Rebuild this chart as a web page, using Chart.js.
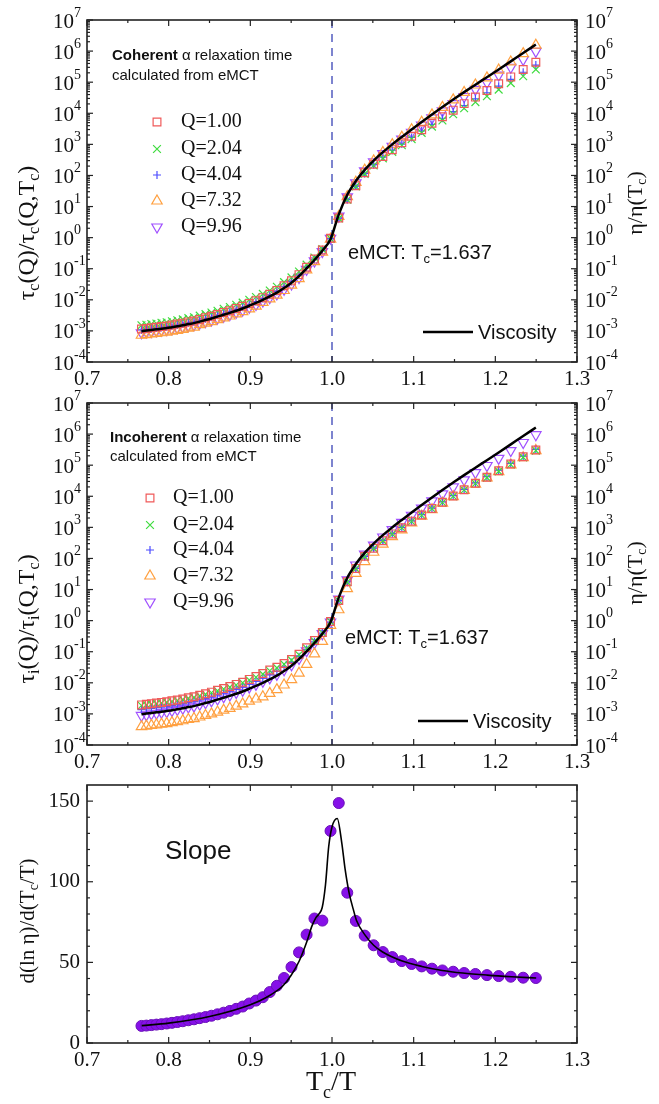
<!DOCTYPE html>
<html>
<head>
<meta charset="utf-8">
<script src="https://cdn.jsdelivr.net/npm/chart.js@4.4.0/dist/chart.umd.min.js"></script>
<style>
  body { margin: 0; background: #fff; width: 659px; height: 1104px; position: relative; overflow: hidden; }
  canvas { position: absolute; left: 0; }
</style>
</head>
<body>
<canvas id="cohChart" width="659" height="395" style="top:0px"></canvas>
<canvas id="incChart" width="659" height="395" style="top:383px"></canvas>
<canvas id="slopeChart" width="659" height="336" style="top:768px"></canvas>
<script>
// Tc/T of the computed points (same grid in all panels)
const tcOverT = [0.7667, 0.7727, 0.7788, 0.7850, 0.7912, 0.7976, 0.8040, 0.8106, 0.8173, 0.8241,
  0.8310, 0.8380, 0.8451, 0.8524, 0.8598, 0.8673, 0.8749, 0.8827, 0.8906, 0.8987,
  0.9069, 0.9153, 0.9238, 0.9325, 0.9413, 0.9504, 0.9596, 0.9689, 0.9785, 0.9882,
  0.9982, 1.0083, 1.0187, 1.0292, 1.0400, 1.0510, 1.0623, 1.0738, 1.0855, 1.0975,
  1.1098, 1.1224, 1.1352, 1.1484, 1.1618, 1.1756, 1.1897, 1.2041, 1.2189, 1.2341, 1.2496];

// log10 of eta/eta(Tc) (black line)
const viscosityLog = [-3.01, -2.99, -2.97, -2.95, -2.93, -2.91, -2.88, -2.85, -2.82, -2.78,
  -2.75, -2.70, -2.65, -2.60, -2.54, -2.48, -2.42, -2.35, -2.28, -2.19,
  -2.10, -2.00, -1.89, -1.77, -1.62, -1.45, -1.24, -0.99, -0.72, -0.42,
  -0.05, 0.75, 1.38, 1.82, 2.18, 2.48, 2.75, 3.00, 3.24, 3.48,
  3.72, 3.96, 4.20, 4.44, 4.68, 4.92, 5.16, 5.41, 5.67, 5.94, 6.21];

// log10 of tau_c(Q)/tau_c(Q,Tc), coherent
const cohQ100 = [-2.94, -2.92, -2.90, -2.88, -2.86, -2.84, -2.81, -2.78, -2.75, -2.71,
  -2.68, -2.63, -2.58, -2.53, -2.47, -2.41, -2.35, -2.28, -2.21, -2.12,
  -2.03, -1.93, -1.82, -1.70, -1.55, -1.39, -1.19, -0.95, -0.69, -0.40,
  -0.02, 0.63, 1.24, 1.67, 2.09, 2.36, 2.61, 2.83, 3.05, 3.26,
  3.47, 3.68, 3.89, 4.10, 4.31, 4.52, 4.73, 4.95, 5.17, 5.41, 5.64];
const cohQ204 = [-2.82, -2.80, -2.78, -2.76, -2.74, -2.72, -2.69, -2.66, -2.63, -2.59,
  -2.56, -2.51, -2.46, -2.41, -2.35, -2.29, -2.23, -2.16, -2.09, -2.00,
  -1.91, -1.81, -1.70, -1.58, -1.43, -1.28, -1.09, -0.87, -0.64, -0.37,
  -0.03, 0.62, 1.22, 1.65, 2.05, 2.32, 2.55, 2.76, 2.97, 3.17,
  3.37, 3.57, 3.77, 3.97, 4.16, 4.36, 4.55, 4.76, 4.97, 5.19, 5.41];
const cohQ404 = [-2.97, -2.95, -2.93, -2.91, -2.89, -2.87, -2.84, -2.81, -2.78, -2.74,
  -2.71, -2.66, -2.61, -2.56, -2.50, -2.44, -2.38, -2.31, -2.24, -2.15,
  -2.06, -1.96, -1.85, -1.73, -1.58, -1.41, -1.21, -0.96, -0.70, -0.41,
  -0.03, 0.63, 1.23, 1.66, 2.07, 2.35, 2.59, 2.81, 3.01, 3.22,
  3.43, 3.64, 3.84, 4.05, 4.25, 4.46, 4.66, 4.87, 5.09, 5.32, 5.55];
const cohQ732 = [-3.14, -3.12, -3.10, -3.08, -3.06, -3.04, -3.01, -2.98, -2.95, -2.91,
  -2.88, -2.80, -2.75, -2.70, -2.64, -2.58, -2.52, -2.45, -2.38, -2.29,
  -2.20, -2.08, -1.97, -1.85, -1.70, -1.53, -1.32, -1.04, -0.77, -0.47,
  -0.05, 0.68, 1.32, 1.78, 2.17, 2.47, 2.74, 2.99, 3.23, 3.47,
  3.71, 3.95, 4.19, 4.43, 4.67, 4.91, 5.14, 5.39, 5.65, 5.92, 6.19];
const cohQ996 = [-3.06, -3.04, -3.02, -3.00, -2.98, -2.96, -2.93, -2.90, -2.87, -2.83,
  -2.80, -2.75, -2.70, -2.65, -2.59, -2.53, -2.47, -2.40, -2.33, -2.24,
  -2.15, -2.04, -1.93, -1.81, -1.66, -1.49, -1.28, -1.02, -0.75, -0.45,
  -0.02, 0.69, 1.31, 1.76, 2.15, 2.44, 2.70, 2.94, 3.17, 3.39,
  3.62, 3.85, 4.08, 4.31, 4.54, 4.77, 4.99, 5.23, 5.48, 5.73, 5.99];

// log10 of tau_i(Q)/tau_i(Q,Tc), incoherent
const incQ100 = [-2.71, -2.69, -2.67, -2.65, -2.63, -2.61, -2.58, -2.55, -2.52, -2.48,
  -2.45, -2.40, -2.35, -2.30, -2.24, -2.18, -2.12, -2.05, -1.98, -1.89,
  -1.80, -1.70, -1.59, -1.50, -1.38, -1.25, -1.08, -0.87, -0.64, -0.38,
  -0.03, 0.65, 1.25, 1.68, 2.07, 2.33, 2.57, 2.79, 2.99, 3.20,
  3.40, 3.61, 3.81, 4.01, 4.21, 4.42, 4.61, 4.82, 5.04, 5.27, 5.49];
const incQ204 = [-2.73, -2.71, -2.69, -2.67, -2.65, -2.63, -2.60, -2.57, -2.54, -2.50,
  -2.47, -2.42, -2.37, -2.32, -2.26, -2.20, -2.14, -2.07, -2.00, -1.91,
  -1.82, -1.72, -1.61, -1.52, -1.40, -1.27, -1.10, -0.89, -0.66, -0.39,
  -0.03, 0.64, 1.24, 1.67, 2.06, 2.32, 2.56, 2.78, 2.98, 3.19,
  3.39, 3.60, 3.80, 4.00, 4.20, 4.41, 4.60, 4.80, 5.02, 5.25, 5.47];
const incQ404 = [-2.86, -2.84, -2.82, -2.80, -2.78, -2.76, -2.73, -2.70, -2.67, -2.63,
  -2.60, -2.55, -2.50, -2.45, -2.39, -2.33, -2.27, -2.20, -2.13, -2.04,
  -1.95, -1.85, -1.74, -1.63, -1.50, -1.35, -1.16, -0.93, -0.68, -0.40,
  -0.05, 0.65, 1.25, 1.68, 2.07, 2.33, 2.58, 2.80, 3.00, 3.21,
  3.41, 3.62, 3.82, 4.02, 4.22, 4.43, 4.63, 4.84, 5.06, 5.29, 5.51];
const incQ732 = [-3.41, -3.39, -3.37, -3.35, -3.33, -3.31, -3.28, -3.25, -3.22, -3.18,
  -3.15, -3.10, -3.05, -3.00, -2.94, -2.88, -2.82, -2.75, -2.68, -2.59,
  -2.52, -2.45, -2.34, -2.22, -2.07, -1.90, -1.69, -1.41, -1.07, -0.67,
  -0.15, 0.35, 1.03, 1.52, 1.90, 2.20, 2.46, 2.70, 2.92, 3.14,
  3.36, 3.57, 3.78, 3.99, 4.19, 4.39, 4.59, 4.79, 5.01, 5.24, 5.47];
const incQ996 = [-3.05, -3.03, -3.00, -2.98, -2.95, -2.93, -2.89, -2.86, -2.82, -2.78,
  -2.75, -2.69, -2.64, -2.58, -2.52, -2.45, -2.39, -2.31, -2.24, -2.14,
  -2.05, -1.95, -1.84, -1.73, -1.58, -1.42, -1.22, -0.97, -0.71, -0.42,
  -0.05, 0.69, 1.31, 1.79, 2.14, 2.43, 2.69, 2.93, 3.16, 3.39,
  3.62, 3.85, 4.08, 4.30, 4.53, 4.76, 4.99, 5.22, 5.47, 5.73, 5.98];

// d(ln eta)/d(Tc/T): points and the smooth curve
const slopePoints = [10.6, 10.8, 11.1, 11.4, 11.7, 12.1, 12.5, 13.0, 13.5, 14.1,
  14.7, 15.4, 16.1, 16.9, 17.8, 18.8, 19.9, 21.2, 22.6, 24.5,
  26.3, 28.4, 31.6, 35.5, 40.3, 47.1, 56.2, 67.2, 77.2, 75.9,
  131.5, 148.8, 93.2, 75.7, 66.6, 60.6, 56.4, 53.3, 50.8, 49.0,
  47.5, 46.1, 45.0, 44.2, 43.4, 42.8, 42.1, 41.5, 41.1, 40.5, 40.3];
const slopeCurveX = [0.767, 0.80, 0.85, 0.90, 0.92, 0.94, 0.95, 0.96, 0.97, 0.975, 0.98, 0.984,
  0.988, 0.992, 0.996, 1.0, 1.0064, 1.012, 1.016, 1.021, 1.026, 1.030, 1.041, 1.051,
  1.062, 1.086, 1.11, 1.135, 1.16, 1.19, 1.22, 1.25];
const slopeCurveY = [10.8, 12.3, 16.4, 23.7, 28.4, 35.5, 42, 51, 64, 72, 77.5, 80,
  84, 98, 122, 134, 139.2, 124, 108, 93, 83, 76, 66.6, 60.6,
  56.4, 50.8, 47.5, 45, 43.4, 42.1, 41.1, 40.3];

const qLabels = ['Q=1.00', 'Q=2.04', 'Q=4.04', 'Q=7.32', 'Q=9.96'];
const xTicks = [0.7, 0.8, 0.9, 1.0, 1.1, 1.2, 1.3];
const xTickLabels = ['0.7', '0.8', '0.9', '1.0', '1.1', '1.2', '1.3'];
const xMinorTicks = [0.75, 0.85, 0.95, 1.05, 1.15, 1.25];
const logExponents = [-4, -3, -2, -1, 0, 1, 2, 3, 4, 5, 6, 7];
const slopeTicks = [0, 50, 100, 150];
const slopeMinor = [10, 20, 30, 40, 60, 70, 80, 90, 110, 120, 130, 140];

const qStyles = [
  { color: '#f05a5a', style: 'rect', radius: 5.5, rot: 0 },
  { color: '#3fdc3f', style: 'crossRot', radius: 5.5, rot: 0 },
  { color: '#4d4dff', style: 'cross', radius: 4, rot: 0 },
  { color: '#ffa040', style: 'triangle', radius: 6, rot: 0 },
  { color: '#a050ff', style: 'triangle', radius: 6, rot: 180 }
];

const SERIF = '"Liberation Serif", "Times New Roman", serif';
const SANS = '"Liberation Sans", Arial, sans-serif';

function font(size, family, weight) {
  return (weight ? weight + ' ' : '') + size + 'px ' + family;
}

// draws text made of parts: n = normal, b = bold, s = subscript, u = superscript
function drawRich(ctx, parts, x, y, size, family, align) {
  let w = 0;
  const items = parts.map(([t, k]) => {
    const s = (k === 's' || k === 'u') ? Math.round(size * 0.65) : size;
    const f = font(s, family, k === 'b' ? 'bold' : '');
    ctx.font = f;
    const tw = ctx.measureText(t).width;
    w += tw;
    return { t, k, f, tw };
  });
  let cx = align === 'center' ? x - w / 2 : (align === 'right' ? x - w : x);
  ctx.textAlign = 'left';
  items.forEach(it => {
    ctx.font = it.f;
    let dy = 0;
    if (it.k === 's') dy = size * 0.3;
    if (it.k === 'u') dy = -size * 0.43;
    ctx.fillText(it.t, cx, y + dy);
    cx += it.tw;
  });
}

function drawRotated(ctx, parts, cx, cy, size, family) {
  ctx.save();
  ctx.translate(cx, cy);
  ctx.rotate(-Math.PI / 2);
  ctx.textBaseline = 'middle';
  drawRich(ctx, parts, 0, 0, size, family, 'center');
  ctx.restore();
}

function logMinor() {
  const out = [];
  logExponents.slice(0, -1).forEach(e => {
    for (let m = 2; m <= 9; m++) out.push(m * Math.pow(10, e));
  });
  return out;
}

function makeFrame(cfg) {
  return {
    id: 'frame',
    beforeDatasetsDraw(chart) {
      if (cfg.dashAt === undefined) return;
      const { ctx, chartArea: a, scales: { x } } = chart;
      const px = x.getPixelForValue(cfg.dashAt);
      ctx.save();
      ctx.strokeStyle = '#7d84cf';
      ctx.lineWidth = 2;
      ctx.setLineDash([8, 6]);
      ctx.beginPath();
      ctx.moveTo(px, a.top);
      ctx.lineTo(px, a.bottom);
      ctx.stroke();
      ctx.restore();
    },
    afterDraw(chart) {
      const { ctx, chartArea: a, scales: { x, y } } = chart;
      ctx.save();
      ctx.strokeStyle = '#222';
      ctx.lineWidth = 1.6;
      ctx.strokeRect(a.left, a.top, a.right - a.left, a.bottom - a.top);
      ctx.lineWidth = 1.2;
      const tick = (x1, y1, x2, y2) => {
        ctx.beginPath(); ctx.moveTo(x1, y1); ctx.lineTo(x2, y2); ctx.stroke();
      };
      xTicks.forEach(v => {
        const p = x.getPixelForValue(v);
        tick(p, a.bottom, p, a.bottom - 6); tick(p, a.top, p, a.top + 6);
      });
      xMinorTicks.forEach(v => {
        const p = x.getPixelForValue(v);
        tick(p, a.bottom, p, a.bottom - 3); tick(p, a.top, p, a.top + 3);
      });
      cfg.yMajor.forEach(v => {
        const p = y.getPixelForValue(v);
        tick(a.left, p, a.left + 6, p); tick(a.right, p, a.right - 6, p);
      });
      cfg.yMinor.forEach(v => {
        const p = y.getPixelForValue(v);
        tick(a.left, p, a.left + 3, p); tick(a.right, p, a.right - 3, p);
      });

      ctx.fillStyle = '#111';
      ctx.textBaseline = 'middle';
      ctx.textAlign = 'center';
      ctx.font = font(21, SERIF);
      xTicks.forEach((v, i) => ctx.fillText(xTickLabels[i], x.getPixelForValue(v), a.bottom + 17));

      if (cfg.log) {
        logExponents.forEach(e => {
          const p = y.getPixelForValue(Math.pow(10, e));
          drawRich(ctx, [['10', 'n'], [String(e), 'u']], 53, p + 2, 21, SERIF, 'left');
          drawRich(ctx, [['10', 'n'], [String(e), 'u']], 585, p + 2, 21, SERIF, 'left');
        });
      } else {
        ctx.font = font(21, SERIF);
        ctx.textAlign = 'right';
        slopeTicks.forEach(v => ctx.fillText(String(v), 80, y.getPixelForValue(v)));
      }
      cfg.extra(ctx);
      ctx.restore();
    }
  };
}

function drawQLegend(ctx, mx, tx, rows) {
  rows.forEach((ry, i) => {
    const st = qStyles[i];
    ctx.save();
    ctx.strokeStyle = st.color;
    ctx.fillStyle = 'rgba(0,0,0,0)';
    ctx.lineWidth = 1.2;
    Chart.helpers.drawPoint(ctx, { pointStyle: st.style, rotation: st.rot, radius: st.radius, borderWidth: 1.2 }, mx, ry);
    ctx.restore();
    ctx.fillStyle = '#111';
    ctx.textBaseline = 'middle';
    ctx.textAlign = 'left';
    ctx.font = font(20, SERIF);
    ctx.fillText(qLabels[i], tx, ry);
  });
}

function drawViscKey(ctx, x1, x2, y, tx) {
  ctx.strokeStyle = '#000';
  ctx.lineWidth = 2.5;
  ctx.beginPath(); ctx.moveTo(x1, y); ctx.lineTo(x2, y); ctx.stroke();
  ctx.fillStyle = '#111';
  ctx.textBaseline = 'middle';
  ctx.textAlign = 'left';
  ctx.font = font(20, SANS);
  ctx.fillText('Viscosity', tx, y + 1);
}

function qDatasets(series) {
  return series.map((vals, i) => ({
    label: qLabels[i],
    data: tcOverT.map((x, j) => ({ x, y: Math.pow(10, vals[j]) })),
    showLine: false,
    pointStyle: qStyles[i].style,
    pointRotation: qStyles[i].rot,
    pointRadius: qStyles[i].radius,
    pointBorderColor: qStyles[i].color,
    pointBackgroundColor: 'rgba(0,0,0,0)',
    pointBorderWidth: 1.2,
    order: i + 1
  }));
}

function viscosityDataset() {
  return {
    label: 'Viscosity',
    data: tcOverT.map((x, j) => ({ x, y: Math.pow(10, viscosityLog[j]) })),
    showLine: true,
    borderColor: '#000',
    borderWidth: 2.5,
    pointRadius: 0,
    tension: 0.4,
    cubicInterpolationMode: 'monotone',
    order: 0
  };
}

function baseOptions(yOpts, xHeight, padTop) {
  return {
    responsive: false,
    animation: false,
    events: [],
    layout: { padding: { top: padTop, right: 82, left: 0, bottom: 0 } },
    plugins: { legend: { display: false }, tooltip: { enabled: false } },
    scales: {
      x: {
        type: 'linear', min: 0.7, max: 1.3,
        grid: { display: false }, border: { display: false }, ticks: { display: false },
        afterFit: s => { s.height = xHeight; }
      },
      y: Object.assign({
        grid: { display: false }, border: { display: false }, ticks: { display: false },
        afterFit: s => { s.width = 87; }
      }, yOpts)
    }
  };
}

const logY = { type: 'logarithmic', min: 1e-4, max: 1e7 };

// Coherent panel
new Chart(document.getElementById('cohChart'), {
  type: 'scatter',
  data: { datasets: [viscosityDataset()].concat(qDatasets([cohQ100, cohQ204, cohQ404, cohQ732, cohQ996])) },
  options: baseOptions(logY, 33, 20),
  plugins: [makeFrame({
    log: true, dashAt: 1.0, yMajor: logExponents.map(e => Math.pow(10, e)), yMinor: logMinor(),
    extra(ctx) {
      ctx.fillStyle = '#111';
      ctx.textBaseline = 'alphabetic';
      drawRich(ctx, [['Coherent', 'b'], [' \u03b1 relaxation time', 'n']], 112, 60, 15, SANS, 'left');
      drawRich(ctx, [['calculated from eMCT', 'n']], 112, 80, 15, SANS, 'left');
      drawQLegend(ctx, 157, 181, [122, 149, 175, 201, 227]);
      ctx.fillStyle = '#111';
      ctx.textBaseline = 'middle';
      drawRich(ctx, [['eMCT: T', 'n'], ['c', 's'], ['=1.637', 'n']], 348, 253, 20, SANS, 'left');
      drawViscKey(ctx, 423, 473, 332, 478);
      ctx.fillStyle = '#111';
      drawRotated(ctx, [['\u03c4', 'n'], ['c', 's'], ['(Q)/\u03c4', 'n'], ['c', 's'], ['(Q,T', 'n'], ['c', 's'], [')', 'n']], 28, 233, 24, SERIF);
      drawRotated(ctx, [['\u03b7/\u03b7(T', 'n'], ['c', 's'], [')', 'n']], 636, 203, 22, SERIF);
    }
  })]
});

// Incoherent panel
new Chart(document.getElementById('incChart'), {
  type: 'scatter',
  data: { datasets: [viscosityDataset()].concat(qDatasets([incQ100, incQ204, incQ404, incQ732, incQ996])) },
  options: baseOptions(logY, 33, 20),
  plugins: [makeFrame({
    log: true, dashAt: 1.0, yMajor: logExponents.map(e => Math.pow(10, e)), yMinor: logMinor(),
    extra(ctx) {
      ctx.fillStyle = '#111';
      ctx.textBaseline = 'alphabetic';
      drawRich(ctx, [['Incoherent', 'b'], [' \u03b1 relaxation time', 'n']], 110, 59, 15, SANS, 'left');
      drawRich(ctx, [['calculated from eMCT', 'n']], 110, 78, 15, SANS, 'left');
      drawQLegend(ctx, 150, 173, [115, 142, 167, 193, 219]);
      ctx.fillStyle = '#111';
      ctx.textBaseline = 'middle';
      drawRich(ctx, [['eMCT: T', 'n'], ['c', 's'], ['=1.637', 'n']], 345, 255, 20, SANS, 'left');
      drawViscKey(ctx, 418, 468, 338, 473);
      ctx.fillStyle = '#111';
      drawRotated(ctx, [['\u03c4', 'n'], ['i', 's'], ['(Q)/\u03c4', 'n'], ['i', 's'], ['(Q,T', 'n'], ['c', 's'], [')', 'n']], 28, 236, 24, SERIF);
      drawRotated(ctx, [['\u03b7/\u03b7(T', 'n'], ['c', 's'], [')', 'n']], 636, 190, 22, SERIF);
    }
  })]
});

// Slope panel
new Chart(document.getElementById('slopeChart'), {
  type: 'scatter',
  data: {
    datasets: [
      {
        label: 'curve',
        data: slopeCurveX.map((x, j) => ({ x, y: slopeCurveY[j] })),
        showLine: true, borderColor: '#000', borderWidth: 1.6, pointRadius: 0,
        tension: 0.4, cubicInterpolationMode: 'monotone', order: 0
      },
      {
        label: 'slope',
        data: tcOverT.map((x, j) => ({ x, y: slopePoints[j] })),
        showLine: false, pointRadius: 5.5, pointBackgroundColor: '#8610e8',
        pointBorderColor: '#6a10b8', pointBorderWidth: 1, order: 1
      }
    ]
  },
  options: baseOptions({ type: 'linear', min: 0, max: 160 }, 61, 17),
  plugins: [makeFrame({
    log: false, yMajor: slopeTicks, yMinor: slopeMinor,
    extra(ctx) {
      ctx.fillStyle = '#111';
      ctx.textBaseline = 'middle';
      ctx.textAlign = 'left';
      ctx.font = font(26, SANS);
      ctx.fillText('Slope', 165, 84);
      drawRotated(ctx, [['d(ln \u03b7)/d(T', 'n'], ['c', 's'], ['/T)', 'n']], 28, 153, 21, SERIF);
      ctx.textBaseline = 'alphabetic';
      drawRich(ctx, [['T', 'n'], ['c', 's'], ['/T', 'n']], 331, 322, 28, SERIF, 'center');
    }
  })]
});
</script>
</body>
</html>
